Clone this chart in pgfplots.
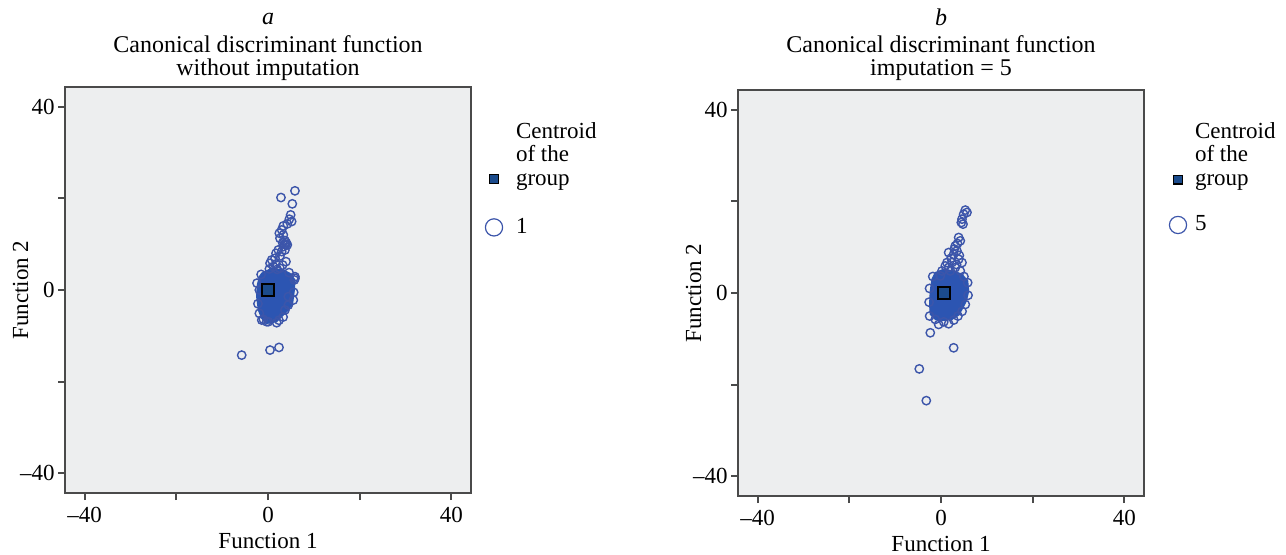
\documentclass[border=0pt]{standalone}
\usepackage{fontspec}
\setmainfont{Liberation Serif}
\usepackage{pgfplots}
\pgfplotsset{compat=1.18}

\definecolor{bg}{HTML}{EDEEEF}
\definecolor{ptc}{HTML}{3C55AA}
\definecolor{corec}{HTML}{2C55B2}
\definecolor{cent}{HTML}{1B4B8C}
\definecolor{axc}{HTML}{4A4A4A}

\pgfplotsset{
 every axis title shift=0pt,
 panel/.style={
  scale only axis, width=203pt, height=203pt,
  xmin=-44.3, xmax=44.3, ymin=-44.3, ymax=44.3,
  axis background/.style={fill=bg},
  axis line style={axc, line width=1pt},
  xtick={-40,-20,0,20,40}, ytick={-40,-20,0,20,40},
  xticklabels={\textendash40,,0,,40}, yticklabels={\textendash40,,0,,40},
  tick align=outside, tick pos=left, major tick length=3.5pt,
  every tick/.style={axc, line width=0.9pt},
  ticklabel style={font=\fontsize{11.5}{12}\selectfont},
  yticklabel style={inner sep=1.5pt},
  label style={font=\fontsize{11.5}{12}\selectfont},
  xlabel={Function 1}, ylabel={Function 2},
  xlabel style={at={(axis description cs:0.5,-0.1355)}, anchor=base},
  ylabel style={at={(axis description cs:-0.091,0.5)}, anchor=base},
  title style={at={(axis description cs:0.5,1)}, anchor=base, inner sep=0pt,
     font=\fontsize{12}{11.5}\selectfont},
  legend image code/.code={\draw[##1] plot coordinates {(0pt,3pt)};},
  legend style={draw=none, fill=none, inner sep=0pt, outer sep=0pt,
     at={(axis description cs:1,1)}, anchor=north west,
     font=\fontsize{11.5}{11.8}\selectfont,
     cells={anchor=base west}, nodes={inner sep=1pt}},
 },
 pts/.style={only marks, mark=o, mark size=2.1pt, mark options={draw=ptc, line width=0.7pt}, forget plot},
 core/.style={draw=corec, fill=corec, line width=0.6pt, mark=none, forget plot},
 cen/.style={only marks, mark=square*, mark size=3pt, mark options={fill=cent, draw=black, line width=0.8pt}, forget plot},
}

\begin{document}
\begin{tikzpicture}
\path[use as bounding box] (0,0) rectangle (643pt,-277.5pt);

% ---------------- panel a ----------------
\begin{axis}[panel, at={(32.5pt,-43.5pt)}, anchor=north west,
  title style={yshift=5.5pt},
  title={\begin{tabular}[b]{c}\textit{a}\\[2pt]Canonical discriminant function\\without imputation\end{tabular}},
  legend style={xshift=7.2pt, yshift=-16.25pt, row sep=13pt, column sep=5.7pt}]
\addplot[pts] coordinates {
 (5.88,21.64) (2.83,20.18) (5.30,18.80) (4.94,16.39) (4.65,15.45) (5.16,14.94)
 (4.21,14.43) (3.34,13.99) (2.98,13.11) (2.47,12.39) (3.34,12.02) (2.61,11.29)
 (3.70,10.78) (4.21,9.84) (3.34,9.47) (3.70,8.74) (2.98,8.38) (2.25,8.74)
 (1.74,8.01) (2.61,7.43) (1.53,6.92) (0.80,6.56) (0.44,5.83) (1.74,5.68)
 (3.20,5.46) (2.61,4.74) (1.16,5.10) (3.92,6.19) (5.88,2.91)
 (3.9,9.9) (4.0,10.3) (3.6,10.0) (3.2,10.3)
 (-0.29,-6.92) (1.89,-7.14) (3.70,-4.37) (4.43,-3.28) (5.52,-2.19) (-1.02,-6.41)
 (-1.89,-5.10) (-1.89,0) (5.74,2.19) (5.88,2.55) (4.43,-1.46) (0.07,-6.92)
 (-1.37,-6.56) (-2.2,-3.0) (-2.4,1.5) (-1.5,3.4) (0.3,4.6) (2.0,4.5) (4.6,3.8)
 (5.6,-0.5) (3.3,-5.9) (2.4,-6.6)
 (-5.74,-14.21) (0.44,-13.11) (2.40,-12.53)
};
\addplot[core] coordinates {
 (-1.37,3.65) (0.8,4.74) (3.34,4.37) (4.79,3.65) (5.88,2.19) (5.74,0) (5.37,-2.91)
 (4.43,-4.37) (2.98,-5.83) (1.89,-6.92) (-0.29,-7.29) (-1.37,-6.19) (-2.1,-4.37)
 (-2.47,-1.46) (-2.32,1.09) (-1.89,2.91)
} -- cycle;
\addplot[cen] coordinates {(0,0)};
\addlegendimage{only marks, mark=square*, mark size=2.2pt, mark options={fill=cent, draw=black, line width=0.6pt}}
\addlegendentry{\begin{tabular}[b]{@{}l@{}}Centroid\\of the\\group\end{tabular}}
\addlegendimage{only marks, mark=o, mark size=4.3pt, mark options={draw=ptc, line width=0.6pt}}
\addlegendentry{1}
\end{axis}

% ---------------- panel b ----------------
\begin{axis}[panel, at={(369pt,-45pt)}, anchor=north west,
  title style={yshift=7pt},
  title={\begin{tabular}[b]{c}\textit{b}\\[2pt]Canonical discriminant function\\imputation = 5\end{tabular}},
  legend style={xshift=12.7pt, yshift=-14.9pt, row sep=11.7pt, column sep=3.2pt}]
\addplot[pts] coordinates {
 (5.30,18.09) (5.67,17.58) (4.94,17.21) (4.58,16.12) (4.80,15.03) (4.43,15.39)
 (3.85,12.11) (4.21,11.38) (3.12,10.28) (3.48,9.19) (2.76,8.46) (1.66,8.83)
 (3.85,7.37) (2.39,6.64) (4.58,6.64) (1.30,6.64) (0.94,5.91) (3.12,5.54)
 (2.03,4.81) (0.21,4.81) (4.21,4.81) (-0.15,3.72) (5.82,2.26)
 (3.6,10.8) (2.9,9.6) (4.0,8.2) (2.2,7.6) (3.4,6.2) (1.7,5.6)
 (-2.48,-5.03) (-1.25,-5.76) (-0.52,-6.86) (1.67,-6.71) (3.70,-5.03) (0.6,-6.3)
 (2.8,-5.9) (5.3,-2.5) (5.9,-0.5) (-2.6,-2.0) (-2.5,1.0) (-1.8,3.6) (5.0,3.6) (4.6,-4.0)
 (-2.34,-8.68) (2.76,-11.96) (-4.74,-16.56) (-3.21,-23.49)
};
\addplot[core] coordinates {
 (-1.25,4.45) (0.57,5.18) (2.76,4.81) (4.58,4.08) (5.82,2.63) (6.03,0.44) (5.52,-1.75)
 (4.58,-3.57) (3.85,-4.81) (2.39,-5.76) (0.57,-5.98) (-1.25,-5.76) (-2.34,-4.67)
 (-2.48,-2.48) (-2.34,0.44) (-1.97,2.99)
} -- cycle;
\addplot[cen] coordinates {(0.6,0)};
\addlegendimage{only marks, mark=square*, mark size=2.2pt, mark options={fill=cent, draw=black, line width=0.6pt}}
\addlegendentry{\begin{tabular}[b]{@{}l@{}}Centroid\\of the\\group\end{tabular}}
\addlegendimage{only marks, mark=o, mark size=4.3pt, mark options={draw=ptc, line width=0.6pt}}
\addlegendentry{5}
\end{axis}
\end{tikzpicture}
\end{document}
